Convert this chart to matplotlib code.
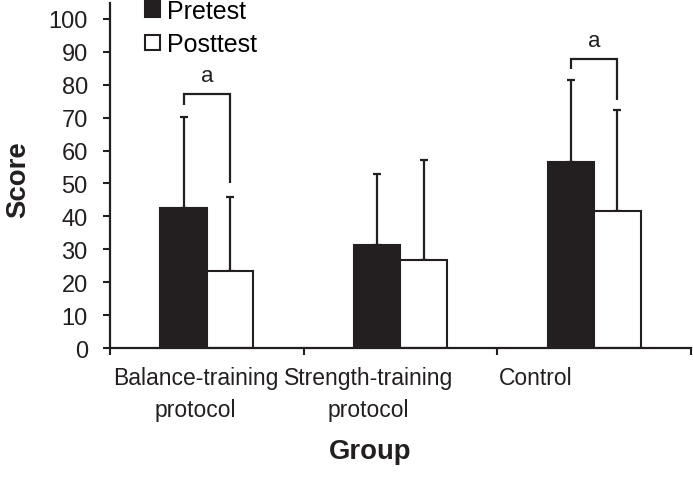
import numpy as np
import matplotlib.pyplot as plt
from matplotlib.patches import Patch

plt.rcParams['font.family'] = ['Liberation Sans', 'DejaVu Sans']

# Data
groups = ['Balance-training\nprotocol', 'Strength-training\nprotocol', 'Control']
pretest = [42.5, 31.4, 56.4]
posttest = [23.5, 26.6, 41.7]
pretest_sd = [27.8, 21.6, 25.1]
posttest_sd = [22.5, 30.4, 30.7]
# significance brackets: group index, bar height, left leg end, right leg end
sig_groups = [0, 2]
sig_top = [77.1, 87.8]
sig_left = [74.0, 84.8]
sig_right = [50.0, 75.5]
yticks = np.arange(0, 101, 10)

ink = '#231f20'

fig = plt.figure(figsize=(6.93, 4.81), dpi=100)
ax = fig.add_axes([0.1587, 0.2744, 0.8383, 0.7183])

x = np.arange(len(groups))
w = 0.24
off = 0.12

ax.bar(x - off, pretest, w, color=ink, edgecolor=ink, linewidth=1.5, label='Pretest', zorder=2)
ax.bar(x + off, posttest, w, color='white', edgecolor=ink, linewidth=1.5, label='Posttest', zorder=2)
ax.errorbar(x - off, pretest, yerr=[np.zeros(3), pretest_sd], fmt='none', ecolor=ink,
            elinewidth=1.6, capsize=3.2, capthick=1.6, zorder=1)
ax.errorbar(x + off, posttest, yerr=[np.zeros(3), posttest_sd], fmt='none', ecolor=ink,
            elinewidth=1.6, capsize=3.2, capthick=1.6, zorder=1)

# significance brackets
for g, top, lo, ro in zip(sig_groups, sig_top, sig_left, sig_right):
    ax.plot([g - off, g - off, g + off, g + off], [lo, top, top, ro], color=ink, lw=1.6,
            solid_capstyle='butt', solid_joinstyle='miter')
    ax.text(g, top + 4, 'a', ha='center', va='baseline', fontsize=16, color=ink)

ax.set_xlim(-0.5, 2.5)
ax.set_ylim(0, 105)
ax.set_yticks(yticks)
ax.tick_params(axis='y', labelsize=17, length=5, width=1.5, pad=11, colors=ink)

# divider ticks between groups, labels as minor ticks
ax.set_xticks([-0.5, 0.5, 1.5, 2.5])
ax.set_xticklabels([])
ax.tick_params(axis='x', which='major', length=5, width=1.5, colors=ink)
ax.set_xticks([-0.057, 0.835, 1.7], minor=True)
ax.set_xticklabels(groups, minor=True, fontsize=16.5, linespacing=1.5)
ax.tick_params(axis='x', which='minor', length=0, pad=13, colors=ink)

for s in ['top', 'right']:
    ax.spines[s].set_visible(False)
for s in ['left', 'bottom']:
    ax.spines[s].set_linewidth(1.6)
    ax.spines[s].set_color(ink)

fig.text(0.534, 0.061, 'Group', ha='center', va='center', fontsize=19.8, fontweight='bold', color=ink)
fig.text(0.026, 0.626, 'Score', ha='center', va='center', rotation=90, fontsize=19.8,
         fontweight='bold', color=ink)

handles = [Patch(facecolor=ink, edgecolor=ink, linewidth=1.5),
           Patch(facecolor='white', edgecolor=ink, linewidth=1.5)]
fig.legend(handles, ['Pretest', 'Posttest'], loc='upper left', bbox_to_anchor=(0.209, 1.0),
           frameon=False, fontsize=18, handlelength=0.6, handleheight=0.6,
           handletextpad=0.3, labelspacing=0.37, borderpad=0, borderaxespad=0)

fig.savefig('out.png', dpi=100)
